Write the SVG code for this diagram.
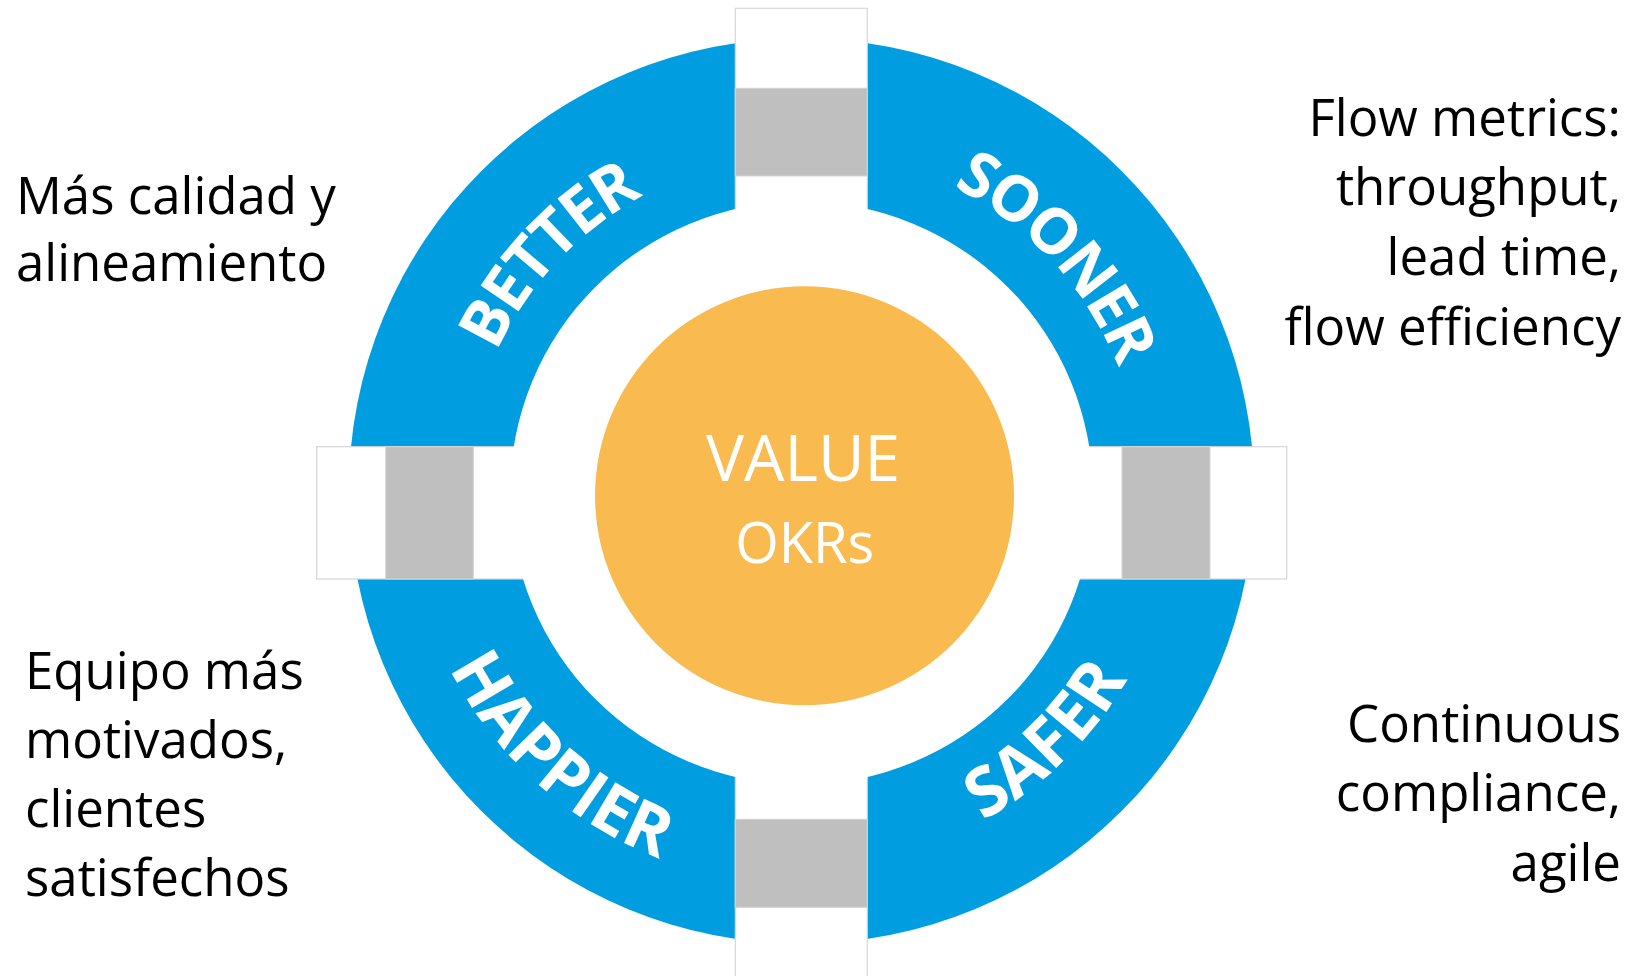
<svg xmlns="http://www.w3.org/2000/svg" xmlns:xlink="http://www.w3.org/1999/xlink" width="1631" height="976" viewBox="0 0 1631 976">
<style>
.side{font-family:"Open Sans","Noto Sans",sans-serif;font-size:51px;fill:#000}
.ring{font-family:"Open Sans","Noto Sans",sans-serif;font-weight:bold;fill:#fff}
.core{font-family:"Open Sans","Noto Sans",sans-serif;fill:#fff;text-anchor:middle}
.gap{fill:#fff;stroke:#d6d6d6;stroke-width:1.2}
.bar{fill:#bfbfbf;stroke:#d4d4d4;stroke-width:1}
</style>
<defs>
<path id="pBetter" d="M 481.1 589.0 A 335 335 0 0 1 876.9 164.6"/>
<path id="pSooner" d="M 727.3 159.2 A 340 340 0 0 1 1125.9 592.7"/>
<path id="pHappier" d="M 416.4 407.7 A 394 394 0 0 0 921.9 866.1"/>
<path id="pSafer" d="M 700.4 853.2 A 376 376 0 0 0 1165.7 397.5"/>
</defs>
<rect width="1631" height="976" fill="#fff"/>
<g id="ring">
<circle cx="801.5" cy="491" r="452.7" fill="#009ee0"/>
<rect class="gap" x="735.3" y="8.3" width="132" height="1000"/>
<rect class="gap" x="316.7" y="446.7" width="970" height="132.3"/>
<rect class="bar" x="735.3" y="88.3" width="132" height="87.7"/>
<rect class="bar" x="735.3" y="819.3" width="132" height="88"/>
<rect class="bar" x="385.7" y="446.7" width="87.6" height="132.3"/>
<rect class="bar" x="1122" y="446.7" width="88" height="132.3"/>
<circle cx="801.5" cy="493" r="291.5" fill="#fff"/>
</g>
<g id="better"><text class="ring" font-size="64" letter-spacing="-2.5"><textPath xlink:href="#pBetter" href="#pBetter" startOffset="50%" text-anchor="middle">BETTER</textPath></text></g>
<g id="sooner"><text class="ring" font-size="63" letter-spacing="-2.5"><textPath xlink:href="#pSooner" href="#pSooner" startOffset="50%" text-anchor="middle">SOONER</textPath></text></g>
<g id="happier"><text class="ring" font-size="68"><textPath xlink:href="#pHappier" href="#pHappier" startOffset="50%" text-anchor="middle">HAPPIER</textPath></text></g>
<g id="safer"><text class="ring" font-size="68"><textPath xlink:href="#pSafer" href="#pSafer" startOffset="50%" text-anchor="middle">SAFER</textPath></text></g>
<g id="value">
<circle cx="804.5" cy="495.8" r="209.5" fill="#f9bb4f"/>
<text class="core" x="803" y="480.7" font-size="64">VALUE</text>
<text class="core" x="804.7" y="563.3" font-size="56">OKRs</text>
</g>
<g id="txtBetter">
<text class="side" x="16" y="214">Más calidad y</text>
<text class="side" x="16" y="281">alineamiento</text>
</g>
<g id="txtSooner" text-anchor="end">
<text class="side" x="1621" y="136">Flow metrics:</text>
<text class="side" x="1621" y="205">throughput,</text>
<text class="side" x="1621" y="275">lead time,</text>
<text class="side" x="1621" y="345">flow efficiency</text>
</g>
<g id="txtHappier">
<text class="side" x="25" y="689">Equipo más</text>
<text class="side" x="25" y="758">motivados,</text>
<text class="side" x="25" y="827">clientes</text>
<text class="side" x="25" y="896">satisfechos</text>
</g>
<g id="txtSafer" text-anchor="end">
<text class="side" x="1621" y="742">Continuous</text>
<text class="side" x="1621" y="811">compliance,</text>
<text class="side" x="1621" y="881">agile</text>
</g>
<g id="connectors"></g>
</svg>
